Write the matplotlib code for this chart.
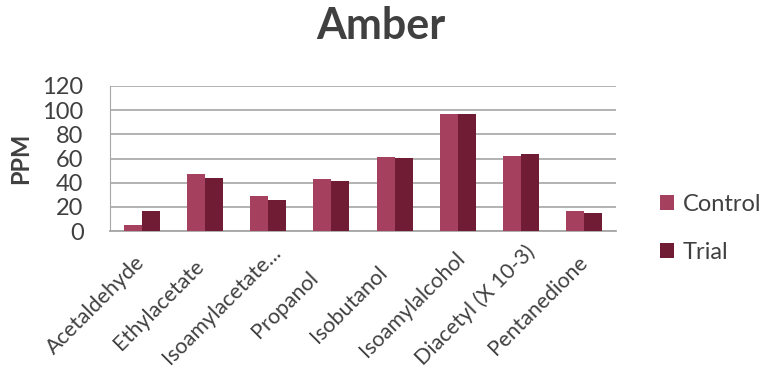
import numpy as np
import matplotlib.pyplot as plt
import matplotlib.transforms as mtransforms

plt.rcParams['font.family'] = ['Lato', 'DejaVu Sans']

compounds = ['Acetaldehyde', 'Ethylacetate', 'Isoamylacetate...', 'Propanol',
             'Isobutanol', 'Isoamylalcohol', 'Diacetyl (X 10-3)', 'Pentanedione']
control = [4.7, 47.2, 29.2, 42.8, 61.0, 96.8, 62.3, 16.8]
trial = [16.3, 43.9, 25.4, 41.7, 60.1, 96.6, 63.7, 15.2]

c_control = '#A5405E'
c_trial = '#701C35'
text_col = '#404040'

fig = plt.figure(figsize=(7.61, 3.75), dpi=100)
ax = fig.add_axes([110 / 761, 1 - 231 / 375, 506 / 761, 145 / 375])

x = np.arange(len(compounds))
w = 0.285
ax.bar(x - w / 2, control, w, color=c_control, label='Control', zorder=3)
ax.bar(x + w / 2, trial, w, color=c_trial, label='Trial', zorder=3)

ax.set_xlim(-0.5, len(compounds) - 0.5)
ax.set_ylim(0, 120)
ax.set_yticks(range(0, 121, 20))
ax.yaxis.grid(True, color='#A6A6A6', linewidth=1.2, zorder=0)
for s in ['top', 'right']:
    ax.spines[s].set_visible(False)
ax.spines['left'].set_color('#A6A6A6')
ax.spines['bottom'].set_color('#A6A6A6')
ax.spines['bottom'].set_linewidth(1.3)
ax.tick_params(axis='both', length=0, colors=text_col)
ax.tick_params(axis='y', labelsize=17, pad=19)
ax.set_xticks(x)
ax.set_xticklabels(compounds, rotation=45, ha='center', va='center',
                   fontsize=15.5, color=text_col)
ax.tick_params(axis='x', pad=0)
# rotated category labels sit centred below-left of each tick
shift = mtransforms.ScaledTranslation(-0.46, -0.74, fig.dpi_scale_trans)
for lab in ax.get_xticklabels():
    lab.set_transform(lab.get_transform() + shift)

ax.set_ylabel('PPM', fontsize=17, fontweight='bold', color=text_col)
ax.yaxis.set_label_coords(-78 / 506, 0.5)
fig.suptitle('Amber', fontsize=31, fontweight='bold', color=text_col, x=0.5, y=0.985)

leg = ax.legend(loc='center left', bbox_to_anchor=(1.045, 0.02), frameon=False,
                fontsize=17, handlelength=0.6, handleheight=0.6, handletextpad=0.35,
                labelspacing=1.15, labelcolor=text_col)

fig.savefig('out.png', dpi=100)
